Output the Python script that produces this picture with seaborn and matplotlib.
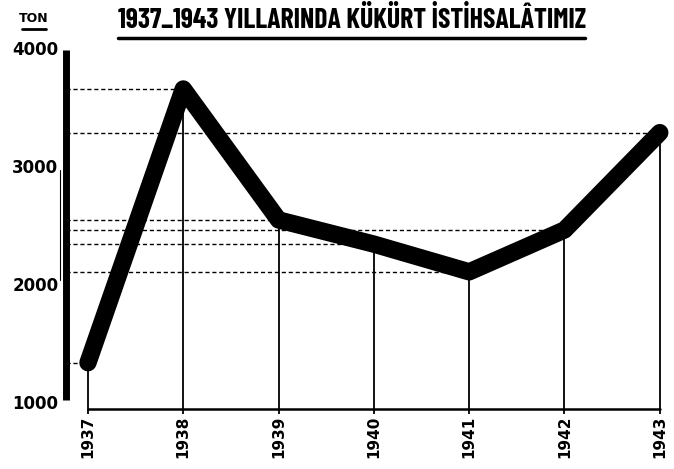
import numpy as np
import pandas as pd
import seaborn as sns
import matplotlib
matplotlib.use('Agg')
import matplotlib.pyplot as plt
from matplotlib.lines import Line2D

years = [1937, 1938, 1939, 1940, 1941, 1942, 1943]
tons = [1350, 3670, 2560, 2355, 2120, 2475, 3300]
ytick_values = [1000, 2000, 3000, 4000]
ytick_labels = ['1000', '2000', '3000', '4000']
xtick_labels = ['1937', '1938', '1939', '1940', '1941', '1942', '1943']
title = '1937_1943 YILLARINDA KÜKÜRT İSTİHSALÂTIMIZ'
unit = 'TON'

sns.set_theme(style='white')
plt.rcParams['font.family'] = ['DejaVu Sans']
plt.rcParams['text.color'] = 'black'
cond = ['Barlow Condensed', 'DejaVu Sans']

fig = plt.figure(figsize=(6.74, 4.69), dpi=100)
ax = fig.add_axes([0, 0, 1, 1])
ax.set_xlim(1936.077, 1943.149)
ax.set_ylim(449, 4424)
ax.axis('off')

df = pd.DataFrame({'year': years, 'ton': tons})
axis_x = 1936.77
base = 960

ax.hlines(tons, axis_x, years, colors='black', linestyles=(0, (3, 2)), linewidth=1.0)
ax.vlines(years, base - 45, tons, colors='black', linewidth=1.3)
ax.plot([years[0], years[-1]], [base, base], color='black', lw=1.8)
ax.plot([axis_x, axis_x], [1030, 4000], color='black', lw=5, solid_capstyle='butt')
ax.plot([axis_x - 0.06, axis_x - 0.06], [2050, 2980], color='black', lw=0.8)
sns.lineplot(data=df, x='year', y='ton', ax=ax, color='black', linewidth=12.5,
             solid_capstyle='round', solid_joinstyle='round')

for v, lab in zip(ytick_values, ytick_labels):
    ax.text(axis_x - 0.08, v, lab, ha='right', va='center', fontsize=12,
            fontweight='bold', color='black')
for yr, lab in zip(years, xtick_labels):
    ax.text(yr, base - 60, lab, rotation=90, ha='center', va='top', fontsize=11,
            fontweight='bold', color='black')

fig.text(34 / 674, 1 - 19 / 469, unit, ha='center', va='center', fontsize=9,
         fontweight='bold', color='black')
fig.add_artist(Line2D([22 / 674, 46 / 674], [1 - 29 / 469, 1 - 29 / 469], color='black', lw=2))
fig.text(352 / 674, 1 - 19 / 469, title, ha='center', va='center', fontsize=20,
         fontweight='bold', family=cond, color='black')
fig.add_artist(Line2D([118 / 674, 585 / 674], [1 - 38 / 469, 1 - 38 / 469], color='black', lw=2.5))

fig.savefig('out.png', dpi=100)
